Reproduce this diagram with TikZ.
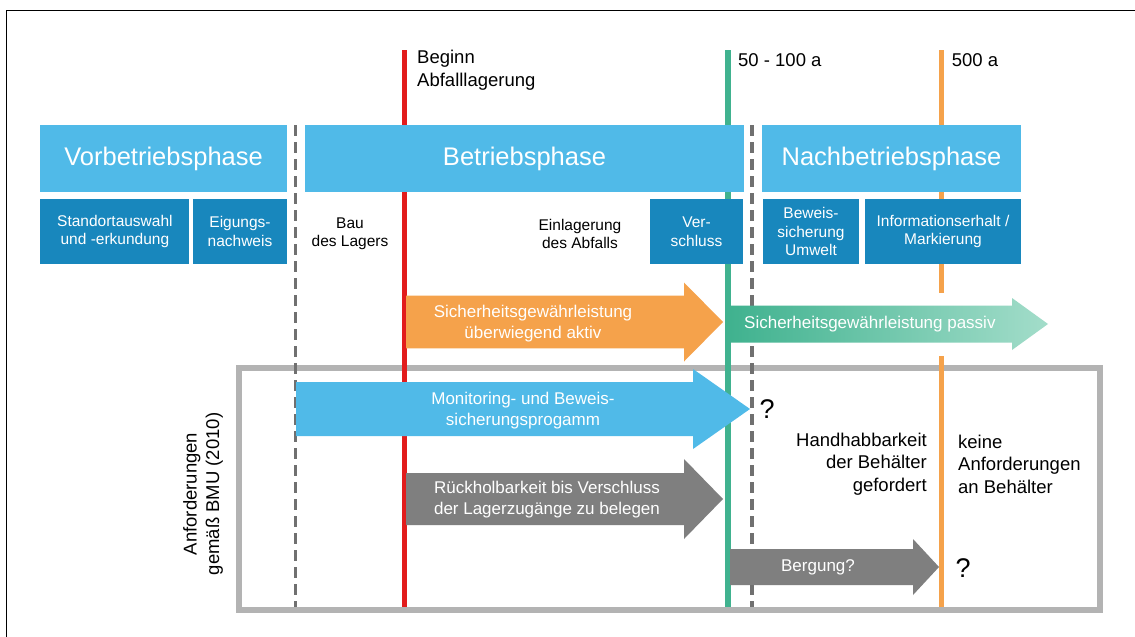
\documentclass[tikz,border=0pt]{standalone}
\usepackage{fontspec}
\setmainfont{Liberation Sans}
\usepackage{tikz}
\definecolor{phaseblue}{RGB}{80,186,232}
\definecolor{subblue}{RGB}{24,135,189}
\definecolor{markred}{RGB}{226,28,28}
\definecolor{markgreen}{RGB}{64,178,143}
\definecolor{markorange}{RGB}{245,162,75}
\definecolor{passivelight}{RGB}{163,221,202}
\definecolor{arrowgray}{RGB}{127,127,127}
\definecolor{framegray}{RGB}{179,179,179}
\definecolor{dashgray}{RGB}{112,112,112}
\tikzstyle{phasebox} = [rectangle, fill=phaseblue, text=white, minimum height=67pt, inner sep=0pt, font=\fontsize{25.5}{30}\selectfont]
\tikzstyle{subbox} = [rectangle, fill=subblue, text=white, minimum height=65pt, inner sep=0pt, align=center, font=\fontsize{15.5}{18.5}\selectfont]
\tikzstyle{steptext} = [inner sep=0pt, align=center, font=\fontsize{15.5}{18}\selectfont]
\tikzstyle{arrowtext} = [inner sep=0pt, align=center, text=white, font=\fontsize{17}{21}\selectfont]
\tikzstyle{notetext} = [inner sep=0pt, font=\fontsize{18.5}{22.5}\selectfont]
\tikzstyle{timeline} = [line width=5.5pt]
\tikzstyle{phasesep} = [dashgray, line width=3.5pt, dash pattern=on 11pt off 6pt]
% #1 style, #2 start x, #3 head x, #4 tip x, #5 mid y, #6 half body, #7 half head
\newcommand{\bigarrow}[7][]{%
  \path[#1] (#2,#5-#6) -- (#3,#5-#6) -- (#3,#5-#7) -- (#4,#5) -- (#3,#5+#7) -- (#3,#5+#6) -- (#2,#5+#6) -- cycle;}

\begin{document}
\begin{tikzpicture}[x=1pt, y=-1pt]
\useasboundingbox (0,0) rectangle (1135,637);
\fill[white] (0,0) rectangle (1135,637);
% outer frame
\coordinate (frameA) at (6.5,637);
\coordinate (frameB) at (6.5,10.5);
\coordinate (frameC) at (1135,10.5);
\draw[line width=1.6pt] (frameA) -- (frameB) -- (frameC);

% requirements frame
\draw[framegray, line width=6pt] (239,367.5) rectangle (1100,610);

% phase separators and time marks
\coordinate (septopA) at (295.7,125);
\coordinate (sepbotA) at (295.7,607);
\coordinate (septopB) at (752,125);
\coordinate (sepbotB) at (752,607);
\draw[phasesep] (septopA) -- (sepbotA);
\draw[phasesep] (septopB) -- (sepbotB);
\coordinate (redtop) at (404.5,50);
\coordinate (redbot) at (404.5,607);
\coordinate (greentop) at (728,50);
\coordinate (greenbot) at (728,607);
\coordinate (orangetop) at (941.5,50);
\coordinate (orangecutA) at (941.5,293);
\coordinate (orangecutB) at (941.5,356);
\coordinate (orangebot) at (941.5,607);
\draw[timeline, markred] (redtop) -- (redbot);
\draw[timeline, markgreen] (greentop) -- (greenbot);
\draw[timeline, markorange] (orangetop) -- (orangecutA);
\draw[timeline, markorange] (orangecutB) -- (orangebot);

\node[notetext, anchor=west, align=left] (beginn) at (417,70) {Beginn\\Abfalllagerung};
\node[notetext, anchor=west] (jahre100) at (738,60) {50 - 100 a};
\node[notetext, anchor=west] (jahre500) at (951.6,60) {500 a};

% phases
\node[phasebox, minimum width=246.4pt] (vorb) at (163.6,158.5) {Vorbetriebsphase};
\node[phasebox, minimum width=439.9pt] (betr) at (524.5,158.5) {Betriebsphase};
\node[phasebox, minimum width=259.6pt] (nach) at (891.5,158.5) {Nachbetriebsphase};

\node[subbox, minimum width=148.9pt] (standort) at (114.9,231.5) {Standortauswahl\\und -erkundung};
\node[subbox, minimum width=94pt] (eignung) at (240,231.5) {Eigungs-\\nachweis};
\node[subbox, minimum width=93pt] (verschluss) at (696.5,231.5) {Ver-\\schluss};
\node[subbox, minimum width=96pt] (beweis) at (811,231.5) {Beweis-\\sicherung\\Umwelt};
\node[subbox, minimum width=156.6pt] (info) at (943,231.5) {Informationserhalt /\\Markierung};
\node[steptext] (bau) at (350,234) {Bau\\des Lagers};
\node[steptext] (einlagerung) at (580,234) {Einlagerung\\des Abfalls};

% block arrows
\bigarrow[fill=markorange]{406}{684}{723}{322}{26.3}{39.5}
\bigarrow[left color=markgreen, right color=passivelight]{730}{1012}{1048}{324}{18.5}{26}
\bigarrow[fill=phaseblue]{296}{693}{750}{409}{27}{40}
\bigarrow[fill=arrowgray]{406}{684}{723}{499}{26}{40}
\bigarrow[fill=arrowgray]{730}{913}{939}{567}{18}{28}
\node[arrowtext] (aktivtext) at (533,323.5) {Sicherheitsgewährleistung\\überwiegend aktiv};
\node[arrowtext, anchor=west] (passivtext) at (744,324) {Sicherheitsgewährleistung passiv};
\node[arrowtext] (monitext) at (523,410.5) {Monitoring- und Beweis-\\sicherungsprogamm};
\node[arrowtext] (rueckholtext) at (547,499.5) {Rückholbarkeit bis Verschluss\\der Lagerzugänge zu belegen};
\node[arrowtext] (bergungtext) at (818,567) {Bergung?};

% requirements
\node[notetext, rotate=90, align=center] (bmu) at (203,494) {Anforderungen\\gemäß BMU (2010)};
\node[notetext, anchor=east, align=right] (handhabung) at (927,464) {Handhabbarkeit\\der Behälter\\gefordert};
\node[notetext, anchor=west, align=left] (keine) at (958,464) {keine\\Anforderungen\\an Behälter};
\node[inner sep=0pt, font=\fontsize{27}{30}\selectfont] (frageA) at (767,409) {?};
\node[inner sep=0pt, font=\fontsize{27}{30}\selectfont] (frageB) at (963,568) {?};
\end{tikzpicture}
\end{document}
